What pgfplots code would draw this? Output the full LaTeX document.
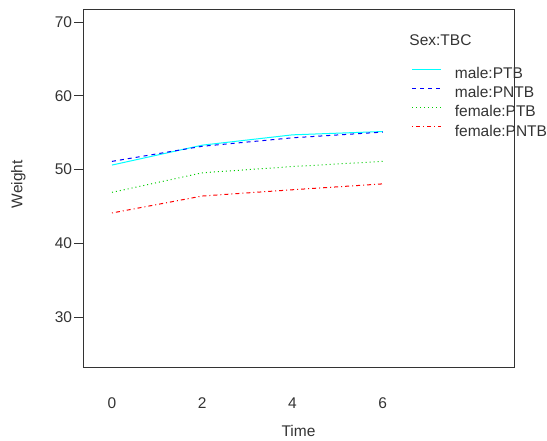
\documentclass[border=0pt]{standalone}
\usepackage{fontspec}
\setmainfont{Liberation Sans}
\usepackage{pgfplots}
\pgfplotsset{compat=1.18}
\definecolor{lcyan}{RGB}{0,255,255}
\definecolor{lblue}{RGB}{0,0,255}
\definecolor{lgreen}{RGB}{0,205,0}
\definecolor{lred}{RGB}{255,0,0}
\definecolor{frame}{RGB}{51,51,51}

\begin{document}
\fontsize{15.5}{18}\selectfont
\begin{tikzpicture}[x=1pt,y=1pt]
\useasboundingbox (0,0) rectangle (547,441);
\begin{axis}[
  at={(83pt,74pt)}, anchor=south west,
  scale only axis, width=431pt, height=358pt,
  xmin=-0.642, xmax=8.907,
  ymin=23.21, ymax=71.77,
  xtick={0,2,4,6},
  ytick={30,40,50,60,70},
  ytick pos=left,
  axis line style={frame, line width=0.8pt},
  tick align=outside,
  major tick length=9pt,
  xtick style={draw=none},
  ytick style={frame, line width=0.8pt},
  /pgf/number format/assume math mode=true,
  ticklabel style={font=\fontsize{15.5}{18}\selectfont, inner sep=0pt, text=frame},
  xticklabel style={anchor=north, yshift=-21.8pt},
  yticklabel style={anchor=east, xshift=-1.7pt},
  xlabel={Time}, ylabel={Weight},
  label style={font=\fontsize{15.5}{18}\selectfont, inner sep=0pt, text=frame},
  xlabel style={at={(axis description cs:0.5,-0.1779)}, anchor=center},
  ylabel style={at={(axis description cs:-0.1501,0.511)}, anchor=center, rotate=0},
  clip=false,
  legend cell align=left,
  legend image code/.code={\draw[#1] (0pt,5.5pt) -- (29pt,5.5pt); \path (42pt,5.5pt);},
  legend style={
    at={(axis description cs:0.763,0.8358)}, anchor=north west,
    draw=none, fill=none, inner sep=0pt, outer sep=0pt,
    row sep=4.6pt,
    nodes={inner sep=0pt, text height=11pt, text depth=3.5pt, text=frame},
    font=\fontsize{15.5}{18}\selectfont,
  },
]
\addplot[color=lcyan, line width=1pt] coordinates {(0,50.6) (2,53.3) (4,54.7) (6,55.15)};
\addlegendentry{male:PTB}
\addplot[color=lblue, line width=1pt, dash pattern=on 4pt off 4pt] coordinates {(0,51.1) (2,53.15) (4,54.3) (6,55.07)};
\addlegendentry{male:PNTB}
\addplot[color=lgreen, line width=1pt, dash pattern=on 1pt off 3pt] coordinates {(0,46.9) (2,49.55) (4,50.4) (6,51.1)};
\addlegendentry{female:PTB}
\addplot[color=lred, line width=1pt, dash pattern=on 1pt off 3pt on 4pt off 3pt] coordinates {(0,44.1) (2,46.4) (4,47.25) (6,48.05)};
\addlegendentry{female:PNTB}
\node[anchor=west, inner sep=0pt, text=frame] at (axis description cs:0.757,0.913) {Sex:TBC};
\end{axis}
\end{tikzpicture}
\end{document}
